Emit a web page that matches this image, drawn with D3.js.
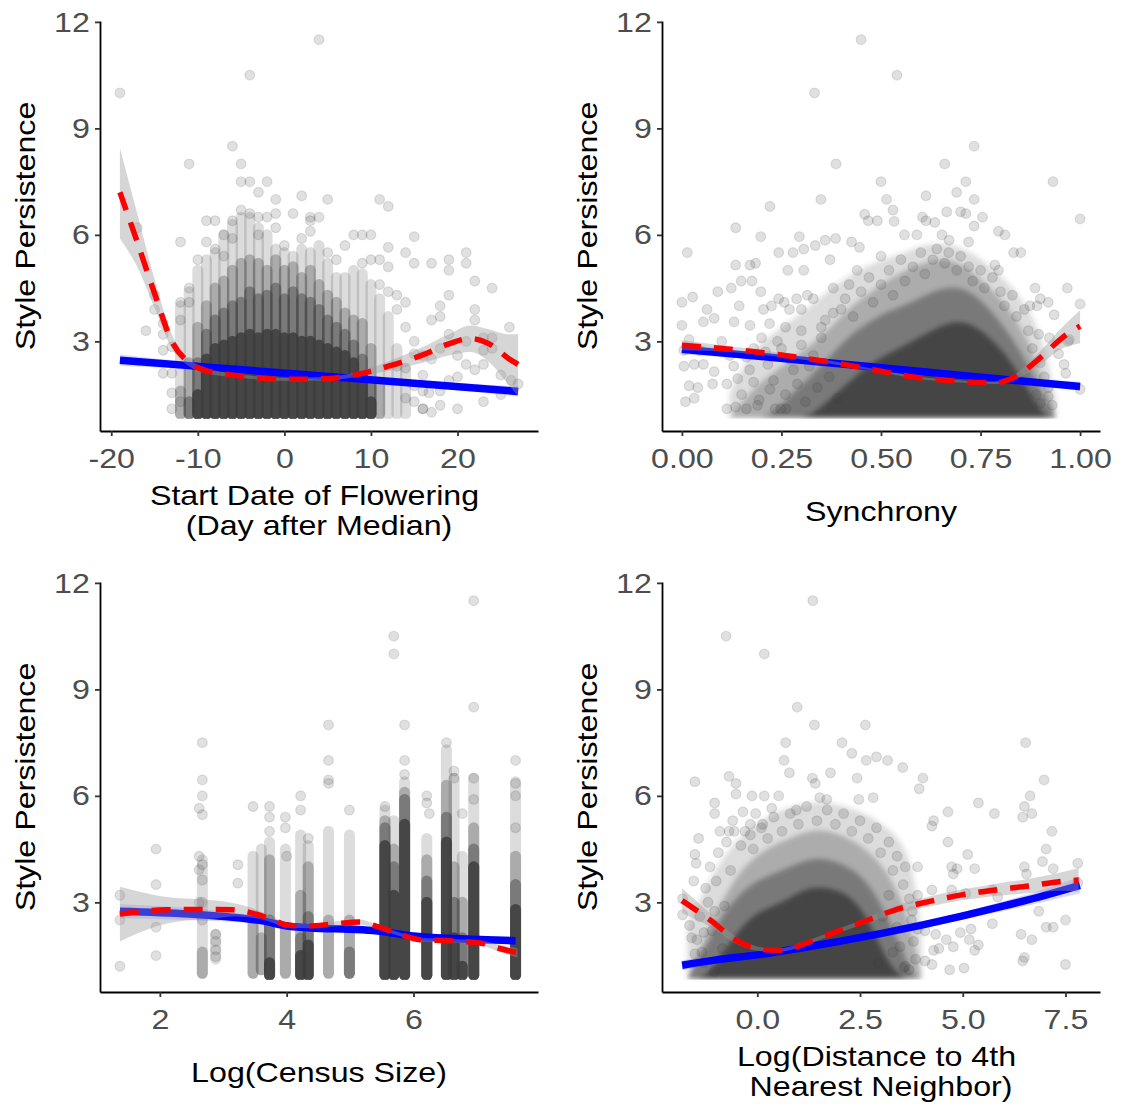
<!DOCTYPE html>
<html>
<head>
<meta charset="utf-8">
<title>Style Persistence</title>
<script src="https://d3js.org/d3.v7.min.js"></script>
<style>
body { margin: 0; background: #ffffff; }
text { font-family: "Liberation Sans", Arial, sans-serif; }
</style>
</head>
<body>
<script>
// ---------- values ----------
var yTicks = [3, 6, 9, 12];
var p1Ticks = [-20, -10, 0, 10, 20];
var p2Ticks = [0, 0.25, 0.5, 0.75, 1];
var p3Ticks = [2, 4, 6];
var p4Ticks = [0, 2.5, 5, 7.5];

// overplotted columns: [x, bottom, light top, mid top, dark top, core top]
var p1Cols = [
  [-12, 0.95, 4.0, 1.6, 0, 0], [-11, 0.95, 4.4, 2.4, 1.3, 0], [-10, 0.95, 5.0, 3.4, 2.4, 1.5],
  [-9, 0.95, 5.3, 4.0, 3.2, 2.5], [-8, 0.95, 5.5, 4.5, 3.6, 2.8], [-7, 0.95, 6.0, 4.7, 3.8, 2.9],
  [-6, 0.95, 6.3, 5.0, 4.0, 3.0], [-5, 0.95, 6.5, 5.2, 4.1, 3.1], [-4, 0.95, 6.5, 5.3, 4.4, 3.2],
  [-3, 0.95, 6.2, 5.2, 4.2, 3.1], [-2, 0.95, 6.0, 5.0, 4.3, 3.2], [-1, 0.95, 5.6, 5.3, 4.5, 3.2],
  [0, 0.95, 5.5, 5.0, 4.2, 3.1], [1, 0.95, 5.4, 5.1, 4.4, 3.1], [2, 0.95, 5.6, 4.8, 4.2, 3.0],
  [3, 0.95, 5.5, 5.0, 4.1, 3.0], [4, 0.95, 5.7, 4.6, 3.9, 2.9], [5, 0.95, 5.2, 4.3, 3.6, 2.8],
  [6, 0.95, 4.8, 4.1, 3.4, 2.7], [7, 0.95, 4.8, 3.8, 3.2, 2.6], [8, 0.95, 5.0, 3.6, 2.9, 2.4],
  [9, 0.95, 4.9, 3.5, 2.5, 2.0], [10, 0.95, 4.6, 2.8, 1.8, 1.3], [11, 0.95, 4.2, 1.8, 0, 0],
  [12, 0.95, 3.7, 0, 0, 0], [13, 0.95, 2.8, 0, 0, 0], [14, 0.95, 2.2, 0, 0, 0]
];
var p1Pts = [
  [-19, 10], [-4, 10.5], [4, 11.5], [-11, 8], [-6, 8.5], [-5, 8], [-5, 7.5], [-4, 7.5],
  [-2, 7.5], [-3, 7.2], [-1, 7], [2, 7.1], [5, 7], [11, 7], [12, 6.8], [-5, 6.7],
  [-4, 6.6], [-3, 6.5], [-2, 6.5], [-1, 6.6], [1, 6.6], [3, 6.5], [4, 6.5], [3, 6.4],
  [-9, 6.4], [-8, 6.4], [-6, 6.4], [-1, 6.2], [3, 6.1], [-17, 6.2], [-7, 6], [8, 6],
  [9, 6], [10, 6], [15, 5.95], [-12, 5.8], [-9, 5.8], [7, 5.7], [12, 5.65], [14, 5.5],
  [21, 5.5], [10, 5.3], [15, 5.2], [17, 5.2], [19, 5.3], [19, 5], [21, 5.2], [22, 4.7],
  [24, 4.5], [-15, 4.3], [-15, 3.9], [-16, 3.3], [-14, 3.5], [18, 4], [19, 4.3], [22, 3.9],
  [18, 3.7], [17, 3.6], [19, 3.2], [22, 3.6], [23, 3.1], [24, 3.1], [26, 3.4], [23, 2.75],
  [21, 2.35], [20, 2], [23, 2.35], [25, 2.05], [26.2, 1.9], [27, 1.8], [23, 1.3], [20, 1.1],
  [16, 1.1], [16, 1.1], [17, 1], [18, 1.2], [15, 1.75], [14, 2.25], [15, 2.65], [16, 2.05],
  [16.7, 1.55], [-14, 3.2], [-14, 2.75], [-13, 2.85], [-14, 2.1], [-13, 2.1], [-13, 1.55],
  [-13, 1.1], [-12, 1.3], [-11, 4.5], [-12, 4.1], [-11, 4.1], [-12, 3.6], [12, 4.4],
  [13, 4.3], [13, 3.9], [14, 3.4], [15, 3.0], [16, 2.6], [14, 4.1], [12, 5.1], [11, 5.3],
  [13, 2.3], [14, 1.4], [15, 1.3], [16, 1.6], [18, 1.6], [19, 1.9], [17, 2.5], [18, 2.8],
  [20, 2.6], [21, 3], [22, 2.2], [24, 2.8], [25, 1.5], [-8, 5.6], [-6, 5.9], [-3, 6.0],
  [0, 5.7], [2, 5.9], [5, 5.5], [6, 5.3], [-10, 5.3], [-7, 5.4], [9, 5.2], [11, 4.6]
];
// fits: [x, fit, lower, upper]
var p1Lm = [[-19, 2.47, 2.31, 2.63], [-8, 2.26, 2.18, 2.34], [4, 2.03, 1.98, 2.08], [15, 1.82, 1.74, 1.9], [27, 1.59, 1.45, 1.73]];
var p1Loess = [
  [-19, 7.2, 5.9, 8.45], [-17, 5.8, 5.1, 6.6], [-15, 4.35, 3.95, 4.75], [-13, 3.0, 2.8, 3.2],
  [-11, 2.4, 2.3, 2.5], [-9, 2.17, 2.1, 2.25], [-5, 2.02, 1.97, 2.07], [0, 1.93, 1.89, 1.97],
  [5, 1.95, 1.9, 2.0], [9, 2.1, 2.03, 2.17], [12, 2.3, 2.17, 2.43], [16, 2.62, 2.4, 2.84],
  [19, 2.93, 2.6, 3.2], [21.5, 3.08, 2.7, 3.45], [23.5, 2.95, 2.45, 3.35], [26, 2.5, 1.75, 3.2],
  [27, 2.35, 1.45, 3.2]
];

// overplotted cloud: tops of each density level on a shared x grid
var p2Grid = [0.12, 0.17, 0.22, 0.27, 0.32, 0.37, 0.42, 0.47, 0.52, 0.57, 0.62, 0.67, 0.72, 0.77, 0.82, 0.87, 0.91, 0.94];
var p2Light = [1.4, 2.5, 3.0, 3.4, 3.8, 4.3, 4.7, 5.0, 5.2, 5.4, 5.6, 5.6, 5.4, 5.0, 4.5, 3.8, 2.8, 1.2];
var p2Mid = [1.0, 1.4, 1.9, 2.3, 2.7, 3.2, 3.8, 4.2, 4.6, 4.9, 5.1, 5.2, 4.9, 4.4, 3.8, 2.9, 1.6, 1.0];
var p2Dark = [1.0, 1.0, 1.0, 1.3, 1.8, 2.4, 3.0, 3.4, 3.7, 3.9, 4.2, 4.4, 4.3, 3.8, 3.1, 2.2, 1.2, 1.0];
var p2Core = [1.0, 1.0, 1.0, 1.0, 1.0, 1.2, 1.7, 2.2, 2.5, 2.8, 3.1, 3.4, 3.4, 3.0, 2.4, 1.5, 1.0, 1.0];
var p2Pts = [
  [0.45, 11.5], [0.54, 10.5], [0.333, 10], [0.734, 8.5], [0.387, 8], [0.66, 8], [0.5, 7.5],
  [0.713, 7.5], [0.932, 7.5], [0.69, 7.2], [0.349, 7], [0.514, 7], [0.613, 7.1], [0.734, 7],
  [0.221, 6.8], [0.53, 6.7], [0.665, 6.65], [0.7, 6.65], [0.713, 6.6], [0.459, 6.58],
  [0.468, 6.4], [0.604, 6.5], [0.613, 6.4], [0.755, 6.5], [1, 6.45], [0.135, 6.2],
  [0.491, 6.4], [0.533, 6.38], [0.635, 6.35], [0.734, 6.25], [0.559, 6], [0.59, 6],
  [0.795, 6.1], [0.811, 6], [0.198, 5.95], [0.295, 5.95], [0.36, 5.85], [0.386, 5.9],
  [0.653, 6], [0.671, 5.85], [0.72, 5.8], [0.0135, 5.5], [0.243, 5.5], [0.279, 5.5],
  [0.306, 5.6], [0.335, 5.7], [0.426, 5.8], [0.446, 5.65], [0.5, 5.4], [0.833, 5.5],
  [0.851, 5.5], [0.135, 5.15], [0.171, 5.15], [0.185, 5.2], [0.266, 5], [0.306, 5],
  [0.372, 5.3], [0.786, 5.15], [0.795, 5], [0.887, 4.5], [0.968, 4.5], [0.149, 4.7],
  [0.176, 4.7], [0.09, 4.4], [0.124, 4.5], [0.198, 4.4], [0.243, 4.2], [0.257, 4.1],
  [0.288, 4.2], [0.315, 4.3], [0, 4.1], [0.027, 4.25], [0.144, 4], [0.205, 3.9], [0.225, 4],
  [0.27, 3.9], [0.063, 3.9], [0.081, 3.65], [0.054, 3.55], [0, 3.45], [0.131, 3.55],
  [0.171, 3.45], [0.9, 4.2], [0.92, 4.1], [1, 4.05], [0.935, 3.75], [0.874, 4], [0.892, 4],
  [0.973, 3.05], [0.97, 3], [0.923, 3.1], [0.896, 3.2], [0.96, 2.35], [0.964, 2.1],
  [0.946, 2.65], [1, 1.65], [0.92, 1.45], [0.9, 1.25], [0.005, 2.75], [0.018, 3.05],
  [0.045, 2.75], [0.005, 2.3], [0.031, 2.35], [0.054, 2.35], [0.081, 2.15], [0.009, 1.3],
  [0.031, 1.4], [0.018, 1.75], [0.04, 1.7], [0.077, 1.8], [0.113, 1.8], [0.113, 1.1],
  [0.135, 1.15], [0.162, 1.1], [0.14, 1.95], [0.18, 1.85], [0.221, 1.65], [0.194, 1.35],
  [0.234, 1.1], [0.248, 1.1], [0.261, 1.1], [0.162, 2.55], [0.216, 2.35], [0.1, 3.0],
  [0.12, 2.6], [0.2, 3.1], [0.25, 2.8], [0.3, 3.3], [0.33, 2.6], [0.28, 2.2], [0.36, 3.6],
  [0.4, 3.9], [0.38, 4.5], [0.42, 4.6], [0.44, 5.0],
  [0.3, 3.9], [0.33, 4.2], [0.35, 3.4], [0.38, 3.8], [0.41, 4.2], [0.43, 3.7], [0.45, 4.4],
  [0.47, 4.8], [0.48, 4.1], [0.5, 4.6], [0.52, 5.0], [0.53, 4.3], [0.55, 5.3], [0.56, 4.7],
  [0.58, 5.1], [0.6, 5.5], [0.61, 4.9], [0.63, 5.3], [0.64, 5.6], [0.66, 5.2], [0.67, 5.5],
  [0.69, 5.0], [0.7, 5.4], [0.72, 5.1], [0.73, 4.7], [0.75, 5.0], [0.76, 4.5], [0.78, 4.8],
  [0.8, 4.4], [0.81, 4.0], [0.83, 4.3], [0.84, 3.7], [0.86, 3.9], [0.87, 3.3], [0.88, 2.8],
  [0.9, 2.4], [0.91, 2.0], [0.92, 1.7], [0.89, 1.5], [0.93, 1.2], [0.15, 1.5], [0.17, 2.2],
  [0.19, 1.2], [0.21, 2.7], [0.23, 1.9], [0.24, 3.0], [0.26, 1.5], [0.27, 2.5], [0.29, 1.8],
  [0.3, 2.9], [0.31, 1.3], [0.32, 2.3], [0.34, 1.7], [0.35, 3.1], [0.37, 2.0], [0.39, 1.4],
  [0.26, 3.4], [0.22, 3.5], [0.18, 2.8], [0.13, 2.3]
];
var p2Lm = [[0, 2.78, 2.63, 2.93], [0.3, 2.47, 2.41, 2.53], [0.6, 2.15, 2.12, 2.18], [0.8, 1.94, 1.9, 1.98], [1, 1.73, 1.6, 1.86]];
var p2Loess = [
  [0, 2.89, 2.75, 3.03], [0.12, 2.78, 2.7, 2.86], [0.24, 2.63, 2.57, 2.69], [0.37, 2.42, 2.38, 2.46],
  [0.49, 2.18, 2.15, 2.21], [0.59, 1.98, 1.95, 2.01], [0.69, 1.88, 1.85, 1.91], [0.75, 1.84, 1.81, 1.87],
  [0.79, 1.84, 1.8, 1.88], [0.84, 2.02, 1.94, 2.1], [0.9, 2.54, 2.35, 2.72], [0.955, 3.1, 2.8, 3.4],
  [1, 3.43, 2.95, 3.88]
];

var p3Cols = [
  [2.67, 1.0, 4.2, 1.6, 0, 0], [2.88, 1.4, 2.1, 0, 0, 0], [3.47, 1.0, 4.3, 2.5, 0, 0],
  [3.60, 1.1, 4.5, 2.0, 0, 0], [3.73, 0.95, 4.7, 4.2, 2.5, 1.3], [3.98, 1.0, 4.5, 2.3, 0, 0],
  [4.22, 0.95, 4.9, 3.2, 2.0, 1.5], [4.34, 0.95, 4.6, 4.0, 2.6, 1.8], [4.66, 1.0, 5.0, 2.5, 0, 0],
  [4.99, 1.0, 4.9, 2.5, 1.6, 0], [5.55, 0.95, 5.6, 5.3, 5.1, 4.6], [5.69, 0.95, 5.3, 4.5, 4.0, 3.2],
  [5.86, 0.95, 6.4, 6.1, 5.9, 5.2], [6.21, 0.95, 4.8, 4.2, 3.6, 3.0], [6.52, 0.95, 7.3, 6.3, 5.4, 4.7],
  [6.64, 0.95, 6.5, 4.0, 3.0, 2.0], [6.77, 0.95, 4.3, 3.0, 2.0, 1.2], [6.95, 0.95, 6.5, 5.1, 4.5, 4.0],
  [7.61, 0.95, 6.4, 4.3, 3.5, 2.8]
];
var p3Pts = [
  [1.37, 3.2], [1.37, 2.5], [1.37, 1.2], [1.94, 4.5], [1.94, 3.5], [1.94, 2.3], [1.94, 1.5],
  [2.67, 7.5], [2.67, 6.45], [2.67, 6.0], [2.62, 5.65], [2.67, 5.47], [2.62, 4.3], [2.67, 4.06],
  [2.62, 3.92], [2.67, 3.63], [2.67, 3.0], [2.62, 3.0], [2.67, 2.5], [2.88, 2.1], [2.88, 1.9],
  [2.88, 1.66], [2.88, 1.47], [3.23, 4.06], [3.23, 3.54], [3.47, 5.7], [3.73, 5.7], [3.73, 5.4],
  [3.73, 5.0], [3.98, 5.4], [3.98, 5.1], [4.22, 6.0], [4.22, 5.6], [4.34, 4.8], [4.66, 8.0],
  [4.66, 7.0], [4.66, 6.45], [4.66, 6.35], [4.99, 5.6], [5.55, 5.7], [5.69, 10.5], [5.69, 10.0],
  [5.86, 8.0], [5.86, 7.0], [5.86, 6.6], [6.21, 6.0], [6.21, 5.8], [6.25, 5.5], [6.52, 7.5],
  [6.64, 6.7], [6.64, 6.5], [6.77, 5.5], [6.95, 11.5], [6.95, 8.5], [6.95, 6.5], [6.95, 5.9],
  [7.61, 7.0], [7.61, 6.35], [7.61, 6.0], [7.61, 5.1], [4.0, 4.3]
];
var p3Lm = [[1.37, 2.75, 2.55, 2.95], [3.55, 2.5, 2.4, 2.6], [4.03, 2.33, 2.26, 2.4], [5.5, 2.18, 2.13, 2.23], [6.0, 2.05, 2.0, 2.1], [7.61, 1.92, 1.8, 2.04]];
var p3Loess = [
  [1.37, 2.67, 1.9, 3.44], [1.68, 2.74, 2.15, 3.3], [2.1, 2.79, 2.4, 3.15], [2.89, 2.8, 2.55, 3.05],
  [3.15, 2.79, 2.6, 2.98], [3.52, 2.67, 2.55, 2.8], [3.79, 2.5, 2.42, 2.58], [4.0, 2.36, 2.29, 2.43],
  [4.31, 2.33, 2.27, 2.39], [4.73, 2.39, 2.32, 2.46], [5.15, 2.45, 2.38, 2.52], [5.41, 2.33, 2.27, 2.39],
  [5.78, 2.1, 2.05, 2.15], [6.1, 1.95, 1.9, 2.0], [6.57, 1.92, 1.87, 1.97], [7.1, 1.84, 1.77, 1.91],
  [7.36, 1.7, 1.6, 1.8], [7.64, 1.58, 1.45, 1.71]
];

var p4Grid = [-1.7, -1.3, -0.9, -0.5, -0.1, 0.3, 0.7, 1.1, 1.5, 1.9, 2.3, 2.7, 3.1, 3.5, 3.8, 4.0];
var p4Light = [2.2, 3.2, 4.0, 4.6, 5.0, 5.3, 5.5, 5.6, 5.7, 5.6, 5.5, 5.3, 5.0, 4.6, 3.8, 2.0];
var p4Mid = [1.0, 1.8, 2.8, 3.6, 4.1, 4.4, 4.6, 4.8, 4.9, 4.8, 4.6, 4.3, 3.8, 3.0, 1.8, 1.0];
var p4Dark = [1.0, 1.5, 2.4, 3.0, 3.4, 3.6, 3.8, 4.0, 4.1, 4.0, 3.8, 3.4, 2.6, 1.6, 1.0, 1.0];
var p4Core = [1.0, 1.0, 1.3, 2.0, 2.5, 2.7, 2.9, 3.2, 3.3, 3.2, 3.0, 2.4, 1.3, 1.0, 1.0, 1.0];
var p4Pts = [
  [1.35, 11.5], [-0.76, 10.5], [0.17, 10], [0.97, 8.5], [1.39, 8], [2.63, 8], [0.69, 7.5],
  [2.06, 7.5], [6.53, 7.5], [2.3, 7.2], [2.9, 7.1], [3.17, 7.0], [0.65, 7.0], [2.65, 7.0],
  [0.78, 6.65], [1.78, 6.65], [3.54, 6.8], [-0.69, 6.55], [-1.52, 6.4], [-0.52, 6.35],
  [1.34, 6.5], [1.41, 6.35], [2.43, 6.5], [4.03, 6.5], [3.94, 6.2], [6.98, 6.45], [6.64, 6.0],
  [-0.52, 6.05], [-0.13, 6.0], [0.17, 6.0], [0.52, 6.0], [1.52, 5.95], [1.69, 5.9], [2.47, 5.9],
  [2.82, 5.95], [5.38, 5.8], [6.5, 5.7], [-1.04, 5.8], [-1.04, 5.5], [-0.35, 5.55], [-0.04, 5.5],
  [0.35, 5.65], [0.95, 5.6], [4.64, 5.55], [5.77, 5.5], [6.46, 5.4], [6.68, 5.5], [-1.43, 4.8],
  [-1.52, 4.35], [-1.49, 4.1], [-0.91, 5.0], [-0.69, 5.0], [-0.56, 5.0], [-0.17, 5.2], [0.13, 5.2],
  [-0.17, 4.9], [4.29, 5.3], [4.25, 5.15], [4.64, 4.7], [7.17, 5.0], [7.03, 4.5], [5.12, 4.35],
  [6.94, 4.15], [6.5, 4.0], [6.55, 3.8], [4.73, 4.0], [4.86, 3.95], [4.77, 3.8], [3.9, 4.0],
  [5.29, 3.95], [7.8, 4.1], [7.2, 3.95], [4.25, 3.35], [4.73, 3.35], [3.9, 3.2], [5.07, 3.25],
  [5.72, 3.35], [5.85, 3.15], [7.8, 3.55], [6.85, 2.75], [7.03, 2.3], [7.5, 2.5], [7.2, 2.3],
  [5.72, 2.4], [5.2, 2.25], [4.94, 2.15], [4.08, 2.2], [4.34, 2.1], [4.6, 1.95], [6.42, 2.1],
  [6.68, 1.95], [6.5, 1.45], [6.46, 1.35], [7.5, 1.25], [5.29, 1.65], [5.38, 1.8], [5.16, 1.95],
  [4.77, 1.75], [4.42, 1.7], [4.29, 1.65], [4.68, 1.1], [5.03, 1.15], [4.08, 1.35], [4.25, 1.25],
  [3.56, 1.15], [3.69, 1.1], [-1.82, 2.65], [-1.82, 3.1], [-1.65, 2.35], [-1.47, 1.95],
  [-1.52, 1.55], [-1.3, 1.3], [-1.04, 1.05], [-1.3, 2.15], [-1.04, 2.75], [-1.26, 3.4],
  [3.77, 2.75], [3.9, 2.25], [3.47, 1.75],
  [-1.6, 2.0], [-1.55, 3.6], [-1.4, 2.6], [-1.35, 1.6], [-1.2, 3.0], [-1.15, 4.0], [-1.1, 2.2],
  [-1.0, 3.6], [-0.95, 4.4], [-0.85, 1.7], [-0.8, 2.9], [-0.75, 4.7], [-0.65, 3.9], [-0.6, 5.3],
  [-0.4, 4.6], [-0.3, 5.0], [-0.1, 4.5], [0.1, 5.1], [0.25, 4.8], [0.4, 5.4], [0.6, 5.0],
  [0.8, 5.5], [1.0, 5.2], [1.2, 5.7], [1.45, 5.3], [1.7, 5.6], [1.9, 5.2], [2.1, 5.5], [2.3, 5.0],
  [2.5, 5.3], [2.7, 4.8], [2.9, 5.1], [3.0, 4.4], [3.2, 4.7], [3.3, 3.9], [3.4, 4.3], [3.55, 3.5],
  [3.6, 4.0], [3.7, 3.1], [3.75, 2.5], [3.8, 1.9], [3.85, 1.4], [3.6, 1.2], [3.3, 1.6], [3.4, 2.3],
  [3.2, 3.2], [3.05, 2.6], [2.95, 1.3]
];
var p4Lm = [
  [-1.83, 1.23, 1.09, 1.37], [-1, 1.38, 1.28, 1.48], [0, 1.52, 1.46, 1.58], [1, 1.7, 1.66, 1.74],
  [2, 1.9, 1.86, 1.94], [3, 2.12, 2.07, 2.17], [4, 2.36, 2.29, 2.43], [5, 2.62, 2.52, 2.72],
  [6, 2.9, 2.76, 3.04], [7, 3.2, 3.02, 3.38], [7.85, 3.48, 3.25, 3.72]
];
var p4Loess = [
  [-1.83, 3.05, 2.7, 3.4], [-1.1, 2.46, 2.28, 2.64], [-0.54, 1.95, 1.85, 2.05], [0.03, 1.69, 1.63, 1.75],
  [0.48, 1.65, 1.6, 1.7], [0.92, 1.74, 1.69, 1.79], [1.41, 1.95, 1.9, 2.0], [2.06, 2.23, 2.17, 2.29],
  [2.71, 2.51, 2.43, 2.59], [3.36, 2.79, 2.68, 2.9], [4.17, 3.02, 2.88, 3.16], [4.98, 3.21, 3.06, 3.36],
  [5.79, 3.35, 3.18, 3.52], [6.6, 3.46, 3.26, 3.66], [7.41, 3.59, 3.33, 3.85], [7.82, 3.63, 3.3, 3.96]
];

var yTitle = "Style Persistence";

// ---------- drawing ----------
var W = 438, H = 410, R = 5.5;
var yDomain = [0.475, 12.025];
var cloudFloor = 1.0;
var ink = "#3d3d3d";
var levels = [0.18, 0.3, 0.45, 0.85];   // opacity of light, mid, dark, core
var stretch = "scale(1.13,1)";
var intFmt = function (d) { return d3.format("d")(d).replace("\u2212", "-"); };

var svg = d3.select("body").append("svg")
  .attr("width", 1122).attr("height", 1112)
  .style("background", "#ffffff");
var defs = svg.append("defs");
defs.append("filter").attr("id", "soft")
  .attr("x", "-10%").attr("y", "-10%").attr("width", "120%").attr("height", "120%")
  .append("feGaussianBlur").attr("stdDeviation", 2.5);

function drawPanel(p) {
  var g = svg.append("g");
  var x = d3.scaleLinear().domain(p.xDomain).range([p.left, p.left + W]);
  var y = d3.scaleLinear().domain(yDomain).range([p.top + H, p.top]);

  var clipId = "clip" + p.id;
  defs.append("clipPath").attr("id", clipId).append("rect")
    .attr("x", p.left + 1).attr("y", p.top)
    .attr("width", W).attr("height", y(cloudFloor) + R + 1 - p.top);
  var plot = g.append("g").attr("clip-path", "url(#" + clipId + ")");

  // overplotted columns
  if (p.cols) {
    levels.forEach(function (op, k) {
      var j = k + 2;
      plot.append("g").selectAll("rect")
        .data(p.cols.filter(function (c) { return c[j] > c[1]; }))
        .join("rect")
        .attr("x", function (c) { return x(c[0]) - R; })
        .attr("width", 2 * R)
        .attr("y", function (c) { return y(c[j]) - R; })
        .attr("height", function (c) { return y(c[1]) - y(c[j]) + 2 * R; })
        .attr("rx", R)
        .attr("fill", ink).attr("fill-opacity", op);
    });
  }

  // overplotted cloud
  if (p.grid) {
    var cloud = plot.append("g").attr("filter", "url(#soft)");
    p.layers.forEach(function (tops, k) {
      var area = d3.area().curve(d3.curveBasis)
        .x(function (d, i) { return x(p.grid[i]); })
        .y0(y(cloudFloor) + R)
        .y1(function (d) { return d > cloudFloor ? y(d) - R : y(cloudFloor) + R; });
      cloud.append("path").datum(tops).attr("d", area)
        .attr("fill", ink).attr("fill-opacity", levels[k]);
    });
  }

  // single points
  plot.append("g").selectAll("circle").data(p.pts).join("circle")
    .attr("cx", function (d) { return x(d[0]); })
    .attr("cy", function (d) { return y(d[1]); })
    .attr("r", R - 0.6)
    .attr("fill", ink).attr("fill-opacity", 0.16)
    .attr("stroke", ink).attr("stroke-opacity", 0.14).attr("stroke-width", 1.2);

  // smooths
  var band = d3.area().curve(d3.curveMonotoneX)
    .x(function (d) { return x(d[0]); })
    .y0(function (d) { return y(d[2]); })
    .y1(function (d) { return y(d[3]); });
  var line = d3.line().curve(d3.curveMonotoneX)
    .x(function (d) { return x(d[0]); })
    .y(function (d) { return y(d[1]); });
  var fits = g.append("g");
  fits.append("path").datum(p.lm).attr("d", band)
    .attr("fill", "#0000ff").attr("fill-opacity", 0.15);
  fits.append("path").datum(p.lm).attr("d", line)
    .attr("fill", "none").attr("stroke", "#0000ff").attr("stroke-width", 7.5);
  fits.append("path").datum(p.loess).attr("d", band)
    .attr("fill", "#999999").attr("fill-opacity", 0.4);
  fits.append("path").datum(p.loess).attr("d", line)
    .attr("fill", "none").attr("stroke", "#ff0000").attr("stroke-width", 5.5)
    .attr("stroke-dasharray", "19,13");

  // axes
  var ax = g.append("g").attr("transform", "translate(0," + (p.top + H) + ")")
    .call(d3.axisBottom(x).tickValues(p.ticks).tickFormat(p.fmt)
      .tickSizeInner(5).tickSizeOuter(0).tickPadding(12));
  var ay = g.append("g").attr("transform", "translate(" + p.left + ",0)")
    .call(d3.axisLeft(y).tickValues(yTicks)
      .tickSizeInner(5).tickSizeOuter(0).tickPadding(4));
  [ax, ay].forEach(function (a) {
    a.select(".domain").attr("stroke", "#000").attr("stroke-width", 1.8);
    a.selectAll(".tick line").attr("stroke", "#333333").attr("stroke-width", 1.8);
    a.selectAll(".tick text")
      .attr("fill", "#4d4d4d").attr("font-size", 28.5)
      .attr("font-family", "Liberation Sans, Arial, sans-serif")
      .attr("transform", stretch);
  });

  // titles
  p.xTitle.forEach(function (t, i) {
    g.append("text")
      .attr("transform", "translate(" + (p.left + W / 2) + "," + (p.titleY + i * 30) + ") " + stretch)
      .attr("text-anchor", "middle").style("white-space", "pre")
      .attr("font-size", 28.5).attr("fill", "#000").text(t);
  });
  g.append("text")
    .attr("transform", "translate(" + (p.left - 65) + "," + (p.top + H / 2) + ") rotate(-90) " + stretch)
    .attr("text-anchor", "middle").attr("font-size", 28.5).attr("fill", "#000").text(yTitle);
}

drawPanel({ id: 1, left: 100, top: 21, xDomain: [-21.3, 29.3], ticks: p1Ticks, fmt: intFmt,
  cols: p1Cols, pts: p1Pts, lm: p1Lm, loess: p1Loess,
  xTitle: ["Start Date of Flowering ", "(Day after Median)"], titleY: 505 });
drawPanel({ id: 2, left: 662, top: 21, xDomain: [-0.05, 1.05], ticks: p2Ticks, fmt: d3.format(".2f"),
  grid: p2Grid, layers: [p2Light, p2Mid, p2Dark, p2Core], pts: p2Pts, lm: p2Lm, loess: p2Loess,
  xTitle: ["Synchrony"], titleY: 521 });
drawPanel({ id: 3, left: 100, top: 582, xDomain: [1.056, 7.964], ticks: p3Ticks, fmt: intFmt,
  cols: p3Cols, pts: p3Pts, lm: p3Lm, loess: p3Loess,
  xTitle: ["Log(Census Size)"], titleY: 1082 });
drawPanel({ id: 4, left: 662, top: 582, xDomain: [-2.32, 8.34], ticks: p4Ticks, fmt: d3.format(".1f"),
  grid: p4Grid, layers: [p4Light, p4Mid, p4Dark, p4Core], pts: p4Pts, lm: p4Lm, loess: p4Loess,
  xTitle: ["Log(Distance to 4th ", "Nearest Neighbor)"], titleY: 1066 });
</script>
</body>
</html>
